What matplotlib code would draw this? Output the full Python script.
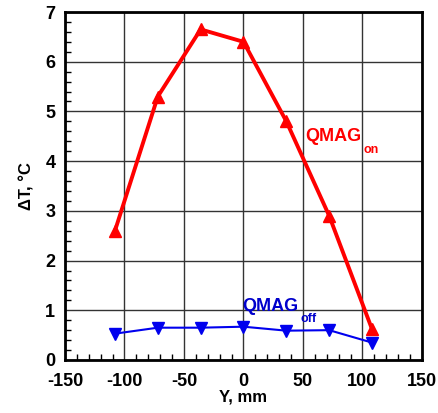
import matplotlib.pyplot as plt
from matplotlib.ticker import MultipleLocator

plt.rcParams['font.family'] = ['Liberation Sans', 'DejaVu Sans']
plt.rcParams['font.weight'] = 'bold'
plt.rcParams['axes.unicode_minus'] = False

Y = [-108, -72, -36, 0, 36, 72, 108]
dT_on = [2.6, 5.3, 6.65, 6.4, 4.8, 2.9, 0.62]
dT_off = [0.53, 0.65, 0.65, 0.67, 0.59, 0.6, 0.35]

fig = plt.figure(figsize=(4.39, 4.13), dpi=100)
ax = fig.add_axes([65/439, 1-360/413, 357/439, 348/413])

ax.plot(Y, dT_on, color='#ff0000', lw=2.8, marker='^', ms=8, zorder=3)
ax.plot(Y, dT_off, color='#0000ee', lw=1.5, marker='v', ms=8, zorder=3)

ax.text(52, 4.5, 'QMAG', color='#ff0000', fontsize=13, fontweight='bold', va='center')
ax.text(101, 4.22, 'on', color='#ff0000', fontsize=9, fontweight='bold', va='center')
ax.text(-1, 1.07, 'QMAG', color='#0000cc', fontsize=13, fontweight='bold', va='center')
ax.text(48, 0.82, 'off', color='#0000cc', fontsize=9, fontweight='bold', va='center')

ax.set_xlim(-150, 150)
ax.set_ylim(0, 7)
ax.xaxis.set_major_locator(MultipleLocator(50))
ax.xaxis.set_minor_locator(MultipleLocator(10))
ax.yaxis.set_major_locator(MultipleLocator(1))
ax.yaxis.set_minor_locator(MultipleLocator(0.2))
ax.grid(True, which='major', color='#333333', lw=1)
ax.tick_params(which='both', direction='in', labelsize=13)
ax.tick_params(axis='x', which='major', length=0, pad=9)
ax.tick_params(axis='y', which='major', length=0, pad=7)
ax.tick_params(which='minor', length=4, width=1)
for s in ax.spines.values():
    s.set_linewidth(2)

ax.set_xlabel('Y, mm', fontsize=12, fontweight='bold', labelpad=0)
ax.set_ylabel('\u0394T, \u00b0C', fontsize=12, fontweight='bold', labelpad=8)

fig.savefig('out.png', dpi=100)
